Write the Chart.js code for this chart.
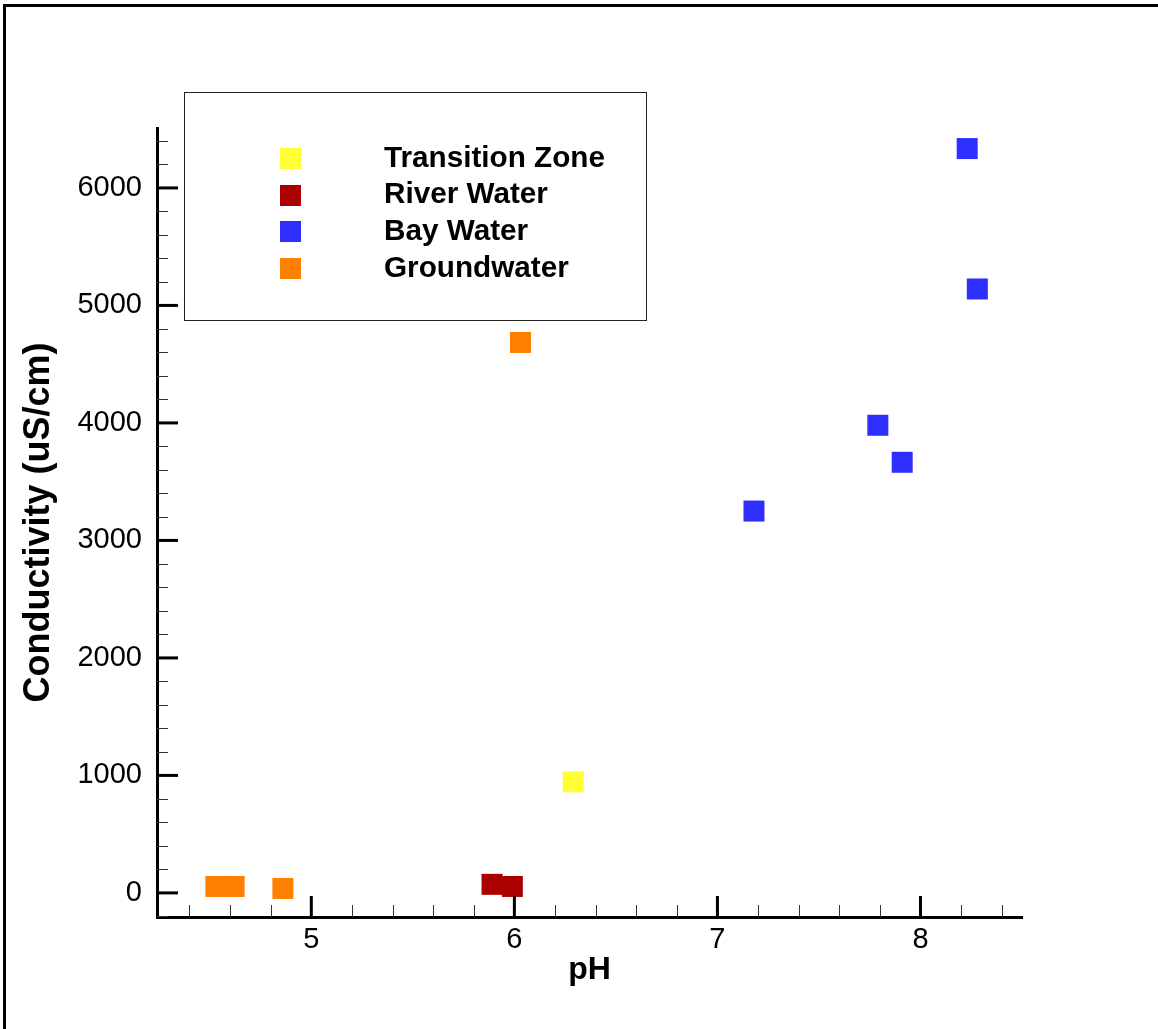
<!DOCTYPE html>
<html>
<head>
<meta charset="utf-8">
<script src="https://cdn.jsdelivr.net/npm/chart.js@4/dist/chart.umd.min.js"></script>
<style>
  html, body { margin: 0; padding: 0; background: #fff; }
  #wrap { width: 1158px; height: 1029px; position: relative; }
</style>
</head>
<body>
<div id="wrap"><canvas id="c" width="1158" height="1029"></canvas></div>
<script>
// ---- Data ----
const seriesNames = ['Transition Zone', 'River Water', 'Bay Water', 'Groundwater'];
const seriesColors = ['#FFFF33', '#AA0000', '#2E2EFF', '#FF8000'];

const transitionPH = [6.29];
const transitionCond = [945];

const riverPH = [5.89, 5.99];
const riverCond = [73, 55];

const bayPH = [8.23, 8.28, 7.79, 7.91, 7.18];
const bayCond = [6335, 5140, 3980, 3665, 3250];

const groundPH = [4.53, 4.62, 4.86, 6.03];
const groundCond = [55, 55, 38, 4685];

const xTickValues = [5, 6, 7, 8];
const yTickValues = [0, 1000, 2000, 3000, 4000, 5000, 6000];
const xRange = [4.24, 8.5];
const yRange = [-205, 6510];
const xMinorStep = 0.2;
const yMinorStep = 200;

function pts(xs, ys) { return xs.map((x, i) => ({ x: x, y: ys[i] })); }

const seriesData = [
  pts(transitionPH, transitionCond),
  pts(riverPH, riverCond),
  pts(bayPH, bayCond),
  pts(groundPH, groundCond)
];

const SQUARE_R = 14.85; // rect side = 2*SQRT1_2*r ≈ 21px

const datasets = seriesNames.map((name, i) => ({
  label: name,
  data: seriesData[i],
  backgroundColor: seriesColors[i],
  borderColor: seriesColors[i],
  borderWidth: 0,
  pointStyle: 'rect',
  pointRadius: SQUARE_R,
  pointHoverRadius: SQUARE_R,
  showLine: false
}));

// ---- Plugin: frame, inner ticks, legend box ----
const decorPlugin = {
  id: 'decor',
  beforeDraw(chart) {
    const ctx = chart.ctx;
    ctx.save();
    ctx.fillStyle = '#fff';
    ctx.fillRect(0, 0, chart.width, chart.height);
    ctx.strokeStyle = '#000';
    ctx.lineWidth = 3;
    ctx.beginPath();
    ctx.moveTo(4.5, chart.height + 5);
    ctx.lineTo(4.5, 5.5);
    ctx.lineTo(chart.width + 5, 5.5);
    ctx.stroke();
    ctx.restore();
  },
  afterDatasetsDraw(chart) {
    const ctx = chart.ctx;
    const xs = chart.scales.x, ys = chart.scales.y;
    const area = chart.chartArea;
    ctx.save();
    // minor ticks
    ctx.lineWidth = 1;
    ctx.strokeStyle = '#333';
    for (let v = Math.ceil(xRange[0] / xMinorStep) * xMinorStep; v <= xRange[1] + 1e-9; v += xMinorStep) {
      const r = Math.round(v * 10) / 10;
      if (xTickValues.some(t => Math.abs(t - r) < 1e-6)) continue;
      const px = Math.round(xs.getPixelForValue(r)) + 0.5;
      ctx.beginPath(); ctx.moveTo(px, area.bottom); ctx.lineTo(px, area.bottom - 12); ctx.stroke();
    }
    for (let v = Math.ceil(yRange[0] / yMinorStep) * yMinorStep; v <= yRange[1] + 1e-9; v += yMinorStep) {
      if (yTickValues.some(t => Math.abs(t - v) < 1e-6)) continue;
      const py = Math.round(ys.getPixelForValue(v)) + 0.5;
      ctx.beginPath(); ctx.moveTo(area.left, py); ctx.lineTo(area.left + 11, py); ctx.stroke();
    }
    // major ticks
    ctx.strokeStyle = '#000';
    ctx.lineWidth = 3;
    xTickValues.forEach(v => {
      const px = xs.getPixelForValue(v);
      ctx.beginPath(); ctx.moveTo(px, area.bottom); ctx.lineTo(px, area.bottom - 21); ctx.stroke();
    });
    yTickValues.forEach(v => {
      const py = ys.getPixelForValue(v);
      ctx.beginPath(); ctx.moveTo(area.left, py); ctx.lineTo(area.left + 21, py); ctx.stroke();
    });
    // legend box
    const bx = 184, by = 92, bw = 462, bh = 228;
    ctx.fillStyle = '#fff';
    ctx.fillRect(bx, by, bw, bh);
    ctx.lineWidth = 1;
    ctx.strokeStyle = '#222';
    ctx.strokeRect(bx + 0.5, by + 0.5, bw, bh);
    ctx.font = 'bold 29.7px "Liberation Sans", Arial, sans-serif';
    ctx.textBaseline = 'middle';
    ctx.textAlign = 'left';
    chart.data.datasets.forEach((ds, i) => {
      const cy = 158.5 + i * 36.7;
      ctx.fillStyle = ds.backgroundColor;
      ctx.fillRect(280, Math.round(cy - 10.5), 21, 21);
      ctx.fillStyle = '#000';
      ctx.fillText(ds.label, 384, cy);
    });
    ctx.restore();
  }
};

const tickFont = { family: '"Liberation Sans", Arial, sans-serif', size: 29 };
const titleFontBase = '"Liberation Sans", Arial, sans-serif';

new Chart(document.getElementById('c'), {
  type: 'scatter',
  data: { datasets: datasets },
  options: {
    responsive: false,
    animation: false,
    devicePixelRatio: 1,
    layout: { padding: { top: 128, right: 136, left: 0, bottom: 0 } },
    plugins: {
      legend: { display: false },
      tooltip: { enabled: false }
    },
    scales: {
      x: {
        type: 'linear',
        min: xRange[0],
        max: xRange[1],
        afterBuildTicks: s => { s.ticks = xTickValues.map(v => ({ value: v })); },
        afterFit: s => { s.height = 112; },
        grid: { display: false, drawTicks: false },
        border: { display: true, color: '#000', width: 3 },
        ticks: { color: '#000', font: tickFont, padding: 6, maxRotation: 0, callback: v => String(v) },
        title: {
          display: true, text: 'pH', color: '#000',
          font: { family: titleFontBase, size: 32, weight: 'bold' },
          padding: { top: 0, bottom: 40 }
        }
      },
      y: {
        type: 'linear',
        min: yRange[0],
        max: yRange[1],
        afterBuildTicks: s => { s.ticks = yTickValues.map(v => ({ value: v })); },
        afterFit: s => { s.width = 157; },
        grid: { display: false, drawTicks: false },
        border: { display: true, color: '#000', width: 3 },
        ticks: { color: '#000', font: tickFont, padding: 15, callback: v => String(v) },
        title: {
          display: true, text: 'Conductivity (uS/cm)', color: '#000',
          font: { family: titleFontBase, size: 36, weight: 'bold' },
          padding: { top: 17, bottom: 0 }
        }
      }
    },
    elements: { point: { borderWidth: 0 } },
    clip: false
  },
  plugins: [decorPlugin]
});
</script>
</body>
</html>
